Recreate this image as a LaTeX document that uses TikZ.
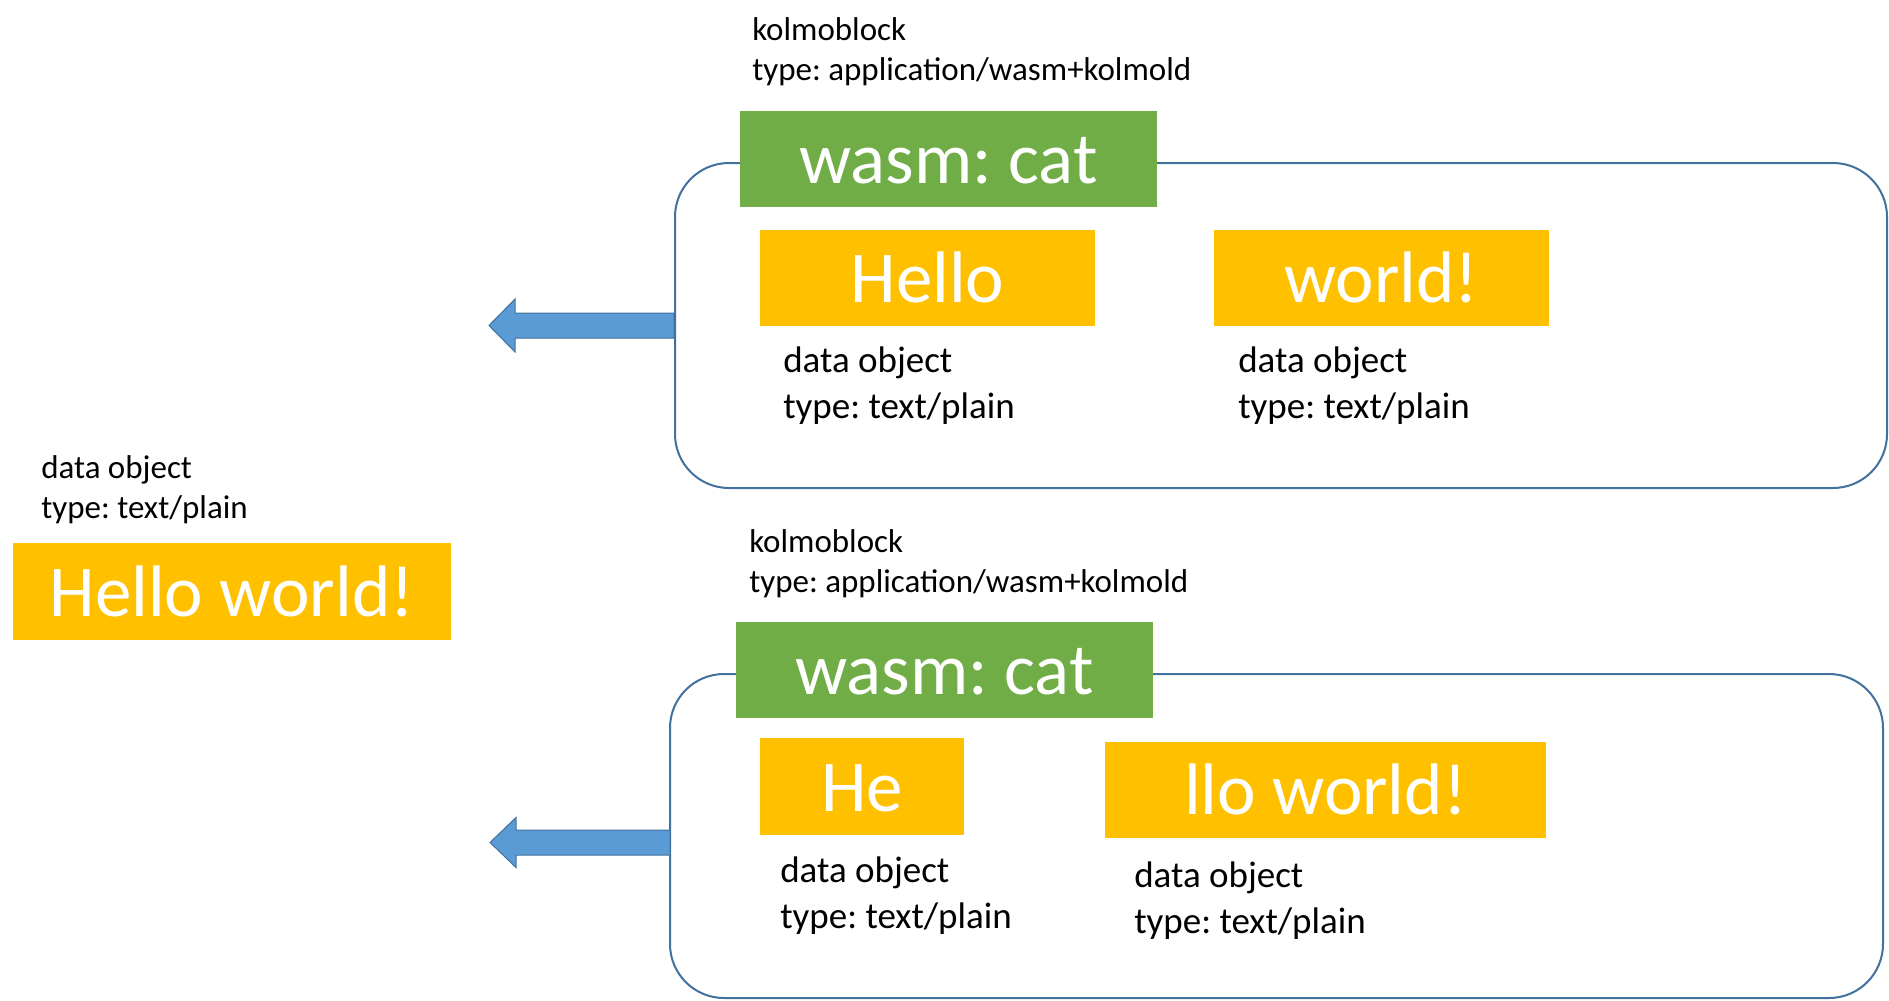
\documentclass[tikz,border=0pt]{standalone}
\usepackage{fontspec}
\setmainfont{Carlito}
\frenchspacing
\definecolor{frameblue}{HTML}{41719C}
\definecolor{arrowblue}{HTML}{5B9BD5}
\definecolor{wasmgreen}{HTML}{70AD47}
\definecolor{dataorange}{HTML}{FFC000}
\tikzset{
  container/.style={draw=frameblue, line width=1.5pt, rounded corners=40.5pt, inner sep=0pt, fill=white},
  bigbox/.style={inner sep=0pt, text=white, font=\fontsize{54.75pt}{66pt}\selectfont, text height=37pt, text depth=0pt, minimum height=72pt},
  wasmbox/.style={bigbox, fill=wasmgreen, minimum width=312.75pt},
  databox/.style={bigbox, fill=dataorange},
  smalllbl/.style={inner sep=0pt, align=left, anchor=base west, font=\fontsize{24.75pt}{30pt}\selectfont},
  medlbl/.style={inner sep=0pt, align=left, anchor=base west, font=\fontsize{27.75pt}{34pt}\selectfont},
  blockarrow/.style={draw=frameblue, line width=0.75pt, fill=arrowblue, line join=miter}
}
\begin{document}
\begin{tikzpicture}[x=0.75pt,y=-0.75pt]
\useasboundingbox (0,0) rectangle (1889,1000);

% ---- upper block ----
\node[container, minimum width=909pt, minimum height=243.75pt] (blk1) at (1281,325.5) {};
\coordinate (a1) at (blk1.west);
\draw[blockarrow] (a1) -- ++(0,-12.5) -- ++(-159,0) -- ++(0,-14) -- ++(-26,26.5) -- ++(26,26.5) -- ++(0,-14) -- ++(159,0) -- cycle;
\node[smalllbl] (k1) at (752,80) {kolmoblock\\type: application/wasm+kolmold};
\node[wasmbox] (w1) at (948.5,159) {wasm: cat};
\node[databox, minimum width=251.25pt] (hello) at (927.5,278) {Hello};
\node[databox, minimum width=251.25pt] (world) at (1381.5,278) {world!};
\node[medlbl] (lhello) at (783,418) {data object\\type: text/plain};
\node[medlbl] (lworld) at (1238,418) {data object\\type: text/plain};

% ---- result ----
\node[smalllbl] (lres) at (41,518) {data object\\type: text/plain};
\node[databox, minimum width=328.5pt, minimum height=72.75pt] (res) at (232,591.5) {Hello world!};

% ---- lower block ----
\node[container, minimum width=909.75pt, minimum height=243pt] (blk2) at (1276.5,836) {};
\coordinate (a2) at (670,842.5);
\draw[blockarrow] (a2) -- ++(0,-12.5) -- ++(-154,0) -- ++(0,-12.5) -- ++(-26,25) -- ++(26,25) -- ++(0,-12.5) -- ++(154,0) -- cycle;
\node[smalllbl] (k2) at (749,592) {kolmoblock\\type: application/wasm+kolmold};
\node[wasmbox] (w2) at (944.5,670) {wasm: cat};
\node[databox, minimum width=153pt, minimum height=72.75pt] (he) at (862,786.5) {He};
\node[databox, minimum width=330.75pt] (llo) at (1325.5,790) {llo world!};
\node[medlbl] (lhe) at (780,928) {data object\\type: text/plain};
\node[medlbl] (lllo) at (1134,933) {data object\\type: text/plain};
\end{tikzpicture}
\end{document}
